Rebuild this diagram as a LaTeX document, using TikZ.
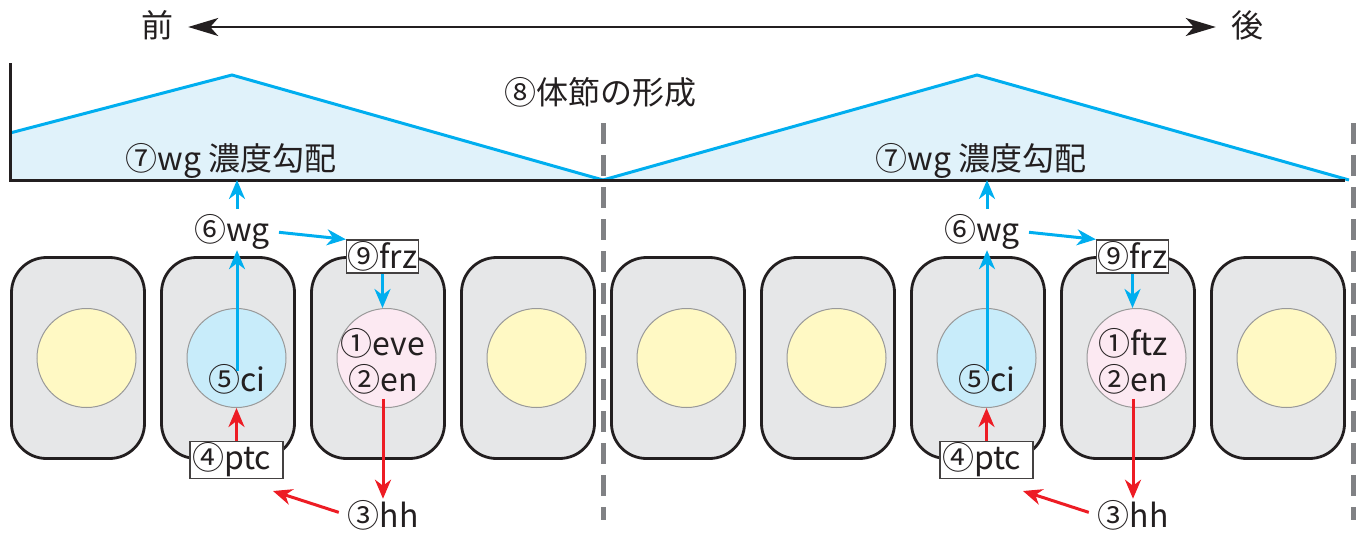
\documentclass[tikz,border=0pt]{standalone}
\usepackage{fontspec}
\setmainfont{Noto Sans CJK JP}
\usetikzlibrary{arrows.meta}

\definecolor{cellgray}{RGB}{230,231,232}
\definecolor{nucyellow}{RGB}{255,249,196}
\definecolor{nucblue}{RGB}{200,236,250}
\definecolor{nucpink}{RGB}{252,233,242}
\definecolor{trifill}{RGB}{224,242,250}
\definecolor{wgblue}{RGB}{0,174,239}
\definecolor{hhred}{RGB}{237,28,36}
\definecolor{dashgray}{RGB}{128,129,132}
\definecolor{ink}{RGB}{35,31,32}

\tikzset{
  cell/.style={draw=ink, line width=2.8pt, fill=cellgray, rounded corners=35pt,
    minimum width=133pt, minimum height=201pt},
  nucleus/.style={circle, draw=black!40, line width=1pt, minimum size=99pt, inner sep=0pt},
  lbl/.style={font=\fontsize{32}{36}\selectfont, inner sep=1pt, text=ink},
  genebox/.style={lbl, draw=ink!85, line width=1.3pt, fill=white, inner sep=1pt},
  bluearrow/.style={draw=wgblue, line width=3pt, -{Stealth[length=19pt,width=16pt,inset=6pt]}},
  redarrow/.style={draw=hhred, line width=3pt, -{Stealth[length=19pt,width=16pt,inset=6pt]}},
  segline/.style={dashgray, line width=5pt, dash pattern=on 21pt off 11pt}
}

\begin{document}
\begin{tikzpicture}[x=1pt, y=-1pt]
  \useasboundingbox (0,0) rectangle (1367,533);

  % anterior - posterior
  \node[lbl, anchor=base, inner xsep=15pt] (front) at (157,37) {前};
  \node[lbl, anchor=base, inner xsep=15pt] (back) at (1247,37) {後};
  \draw[ink, line width=2.2pt, {Stealth[length=30pt,width=18pt,inset=8pt]}-{Stealth[length=30pt,width=18pt,inset=8pt]}]
    (front.east |- 0,27) -- (back.west |- 0,27);

  % wg gradient
  \fill[trifill] (10,180) -- (10,133) -- (232,75) -- (603,180) -- cycle;
  \fill[trifill] (603,180) -- (977,75) -- (1347,180) -- cycle;
  \draw[wgblue, line width=3pt] (10,133) -- (232,75) -- (603,180) -- (977,75) -- (1349,180);
  \draw[ink, line width=3pt] (10,63) -- (10,180) -- (1345,180);

  \node[lbl, anchor=base] (segment) at (600,104) {⑧体節の形成};

  % segment borders
  \draw[segline] (603,123) -- (603,520);
  \draw[segline] (1353,123) -- (1353,520);

  % cells
  \foreach \i/\c in {1/nucyellow,2/nucblue,3/nucpink,4/nucyellow,5/nucyellow,
                     6/nucyellow,7/nucblue,8/nucpink,9/nucyellow} {
    \node[cell] (cell\i) at ({78+150*(\i-1)},358) {};
    \node[nucleus, fill=\c] (nuc\i) at ({86.5+150*(\i-1)},358) {};
  }

  % genes
  \foreach \s/\g/\o/\p/\q in {A/eve/0/2/3, B/ftz/750/7/8} {
    \begin{scope}[xshift=\o]
      \node[lbl, anchor=base] (grad\s) at (231,170) {⑦wg 濃度勾配};
      \coordinate (top\s) at (237,180);
      \node[lbl, anchor=base] (wg\s) at (232,241) {⑥wg};
      \node[lbl, anchor=base] (ci\s) at (237,391) {⑤ci};
      \node[genebox, minimum width=69pt, minimum height=33pt] (frz\s) at (382.5,256.5) {⑨frz};
      \node[lbl, anchor=base] (pair\s) at (383,355) {①\g};
      \node[lbl, anchor=base] (en\s) at (383,391) {②en};
      \node[lbl, anchor=base] (hh\s) at (383,527) {③hh};
      \node[genebox, text width=89pt, align=left, inner xsep=2pt, minimum height=34pt]
        (ptc\s) at (236.5,460) {④ptc};
      \coordinate (hhfree\s) at (273,491);
    \end{scope}
    \draw[bluearrow, shorten <=-8pt] (ci\s.north) -- (ci\s.north |- wg\s.south);
    \draw[bluearrow, shorten <=4pt] (top\s |- wg\s.north) -- (top\s);
    \draw[bluearrow, shorten <=8pt] (wg\s.east) -- (frz\s.north west);
    \draw[bluearrow] (frz\s.south) -- (frz\s.south |- nuc\q.north);
    \draw[redarrow, shorten <=4pt] (en\s.south) -- (hh\s.north);
    \draw[redarrow, shorten <=8pt] (hh\s.west) -- (hhfree\s);
    \draw[redarrow] (ptc\s.north) -- (nuc\p.south);
  }
\end{tikzpicture}
\end{document}
